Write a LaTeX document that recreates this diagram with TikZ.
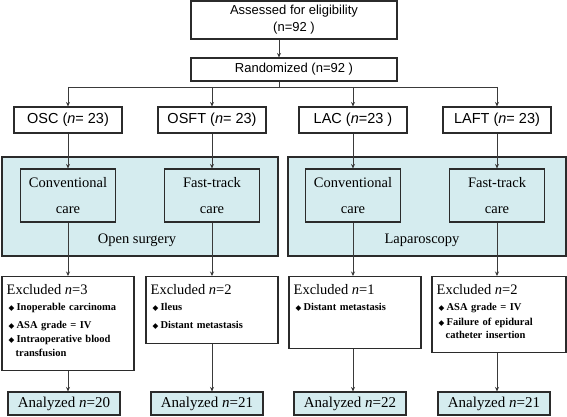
\documentclass[tikz,border=0pt]{standalone}
\usepackage{fontspec}
\setmainfont{Liberation Serif}
\setsansfont{Liberation Sans}
\newfontfamily\bulfont{DejaVu Sans}
\usetikzlibrary{arrows.meta,calc}
\definecolor{cCyanF}{HTML}{D5ECEF}
\definecolor{cLineD}{HTML}{2B2B2B}
\definecolor{cArrD}{HTML}{3A3A3A}
\newcommand{\bul}{\hspace*{2pt}\makebox[8pt][l]{\bulfont\fontsize{7.5}{7.5}\selectfont ◆}}
\newcommand{\cont}{\hspace*{9pt}}
\tikzset{
  blk/.style    = {draw=cLineD, line width=1.1pt, inner sep=2pt, align=center},
  headbox/.style= {blk, font=\sffamily\fontsize{13}{17}\selectfont, minimum width=206pt},
  arm/.style    = {blk, font=\sffamily\fontsize{14.5}{17}\selectfont,
                   minimum width=108pt, minimum height=26pt},
  grpbox/.style = {blk, fill=cCyanF},
  care/.style   = {blk, fill=cCyanF, font=\fontsize{14.5}{26}\selectfont,
                   minimum width=95pt, minimum height=53pt},
  excl/.style   = {blk, minimum width=132pt, anchor=north},
  extxt/.style  = {anchor=north west, inner sep=0pt, text width=124pt, align=left,
                   font=\fontsize{10.5}{14}\selectfont\bfseries},
  res/.style    = {blk, fill=cCyanF, font=\fontsize{15}{17}\selectfont,
                   minimum width=112pt, minimum height=23pt},
  arr/.style    = {cArrD, line width=0.7pt, -{Stealth[length=4.5pt,width=4pt]}},
  ln/.style     = {cArrD, line width=0.7pt},
}
\newcommand{\exhd}[1]{{\mdseries\fontsize{14.5}{16}\selectfont Excluded \textit{n}=#1}}

\begin{document}
\begin{tikzpicture}[x=1pt,y=-1pt]
  \useasboundingbox (0,0) rectangle (567,417);
  % enrolment
  \node[headbox, minimum height=38pt] (assess) at (294,20) {Assessed for eligibility\\(n=92 )};
  \node[headbox, minimum height=23pt] (rand) at (294,69.5) {Randomized (n=92 )};
  \coordinate (split) at (279,87);
  % arms
  \node[arm] (osc)  at (68,120)  {OSC (\textit{n}= 23)};
  \node[arm] (osft) at (212,120) {OSFT (\textit{n}= 23)};
  \node[arm] (lac)  at (353,120) {LAC (\textit{n}=23 )};
  \node[arm] (laft) at (497,120) {LAFT (\textit{n}= 23)};
  % surgery groups
  \node[grpbox, minimum width=276pt, minimum height=99pt] (open) at (140,206.5) {};
  \node[grpbox, minimum width=278pt, minimum height=99pt] (lap)  at (427,206.5) {};
  \node[font=\fontsize{14.5}{16}\selectfont] (openl) at (137,240) {Open surgery};
  \node[font=\fontsize{14.5}{16}\selectfont] (lapl)  at (422,240) {Laparoscopy};
  \node[care] (convO) at (68,195.5)  {Conventional\\care};
  \node[care] (fastO) at (212,195.5) {Fast-track\\care};
  \node[care] (convL) at (353,195.5) {Conventional\\care};
  \node[care] (fastL) at (497,195.5) {Fast-track\\care};
  % exclusions
  \node[excl, minimum height=94pt] (exA) at (68,276)  {};
  \node[excl, minimum height=67pt] (exB) at (212,276) {};
  \node[excl, minimum height=72pt] (exC) at (355,276) {};
  \node[excl, minimum width=134pt, minimum height=76pt] (exD) at (499,276) {};
  \node[extxt] (exAt) at ($(exA.north west)+(5pt,-8pt)$) {\exhd{3}\\[2pt]
    \bul Inoperable carcinoma\\[4pt]
    \bul ASA grade = IV\\
    \bul Intraoperative blood\\\cont transfusion};
  \node[extxt] (exBt) at ($(exB.north west)+(5pt,-8pt)$) {\exhd{2}\\[2pt]
    \bul Ileus\\[4pt]
    \bul Distant metastasis};
  \node[extxt] (exCt) at ($(exC.north west)+(5pt,-8pt)$) {\exhd{1}\\[2pt]
    \bul Distant metastasis};
  \node[extxt] (exDt) at ($(exD.north west)+(5pt,-8pt)$) {\exhd{2}\\[2pt]
    \bul ASA grade = IV\\[1pt]
    \bul Failure of epidural\\[-1pt]\cont catheter insertion};
  % results
  \node[res] (anA) at (64,403.5)  {Analyzed \textit{n}=20};
  \node[res] (anB) at (207,403.5) {Analyzed \textit{n}=21};
  \node[res] (anC) at (350,403.5) {Analyzed \textit{n}=22};
  \node[res] (anD) at (494,403.5) {Analyzed \textit{n}=21};
  % connectors
  \draw[arr] (assess.south -| split) -- (rand.north -| split);
  \draw[ln] (rand.south -| split) -- (split);
  \draw[ln] (osc.north |- split) -- (laft.north |- split);
  \foreach \a in {osc,osft,lac,laft}
    \draw[arr] (\a.north |- split) -- (\a.north);
  \draw[arr] (osc.south) -- (convO.north);
  \draw[arr] (osft.south) -- (fastO.north);
  \draw[arr] (lac.south) -- (convL.north);
  \draw[arr] (laft.south) -- (fastL.north);
  \draw[arr] (convO.south) -- (convO.south |- exA.north);
  \draw[arr] (fastO.south) -- (fastO.south |- exB.north);
  \draw[arr] (convL.south) -- (convL.south |- exC.north);
  \draw[arr] (fastL.south) -- (fastL.south |- exD.north);
  \draw[arr] (convO.south |- exA.south) -- (convO.south |- anA.north);
  \draw[arr] (fastO.south |- exB.south) -- (fastO.south |- anB.north);
  \draw[arr] (convL.south |- exC.south) -- (convL.south |- anC.north);
  \draw[arr] (fastL.south |- exD.south) -- (fastL.south |- anD.north);
\end{tikzpicture}
\end{document}
